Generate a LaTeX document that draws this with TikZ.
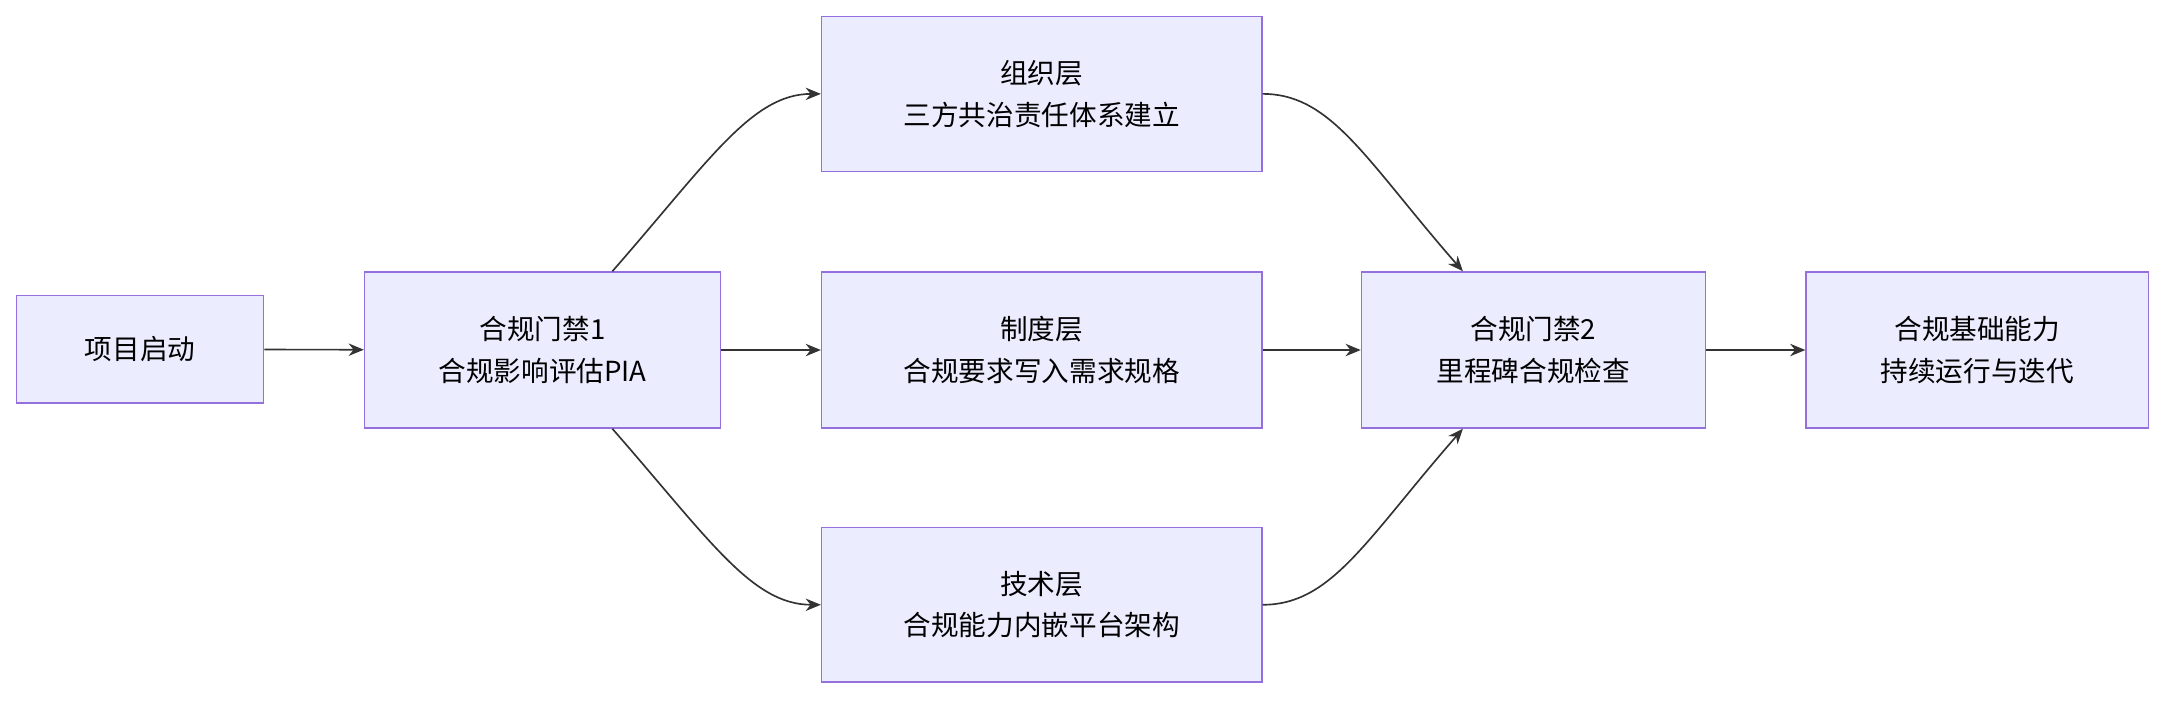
\documentclass[tikz,border=0pt]{standalone}
\usepackage{fontspec}
\setmainfont{Noto Sans CJK SC}
\usetikzlibrary{arrows.meta,calc}
\definecolor{boxfill}{HTML}{ECECFF}
\definecolor{boxline}{HTML}{9370DB}
\definecolor{arr}{HTML}{333333}
\begin{document}
\begin{tikzpicture}[x=1pt,y=1pt,
  box/.style={draw=boxline,fill=boxfill,line width=1pt,align=center,font=\fontsize{20}{30}\selectfont,inner sep=0pt},
  conn/.style={draw=arr,line width=1.2pt,-{Stealth[length=11pt,width=9pt]}}]
\useasboundingbox (0,0) rectangle (1568,507);
\node[box,minimum width=179pt,minimum height=78pt] (start) at (101.5,254) {项目启动};
\node[box,minimum width=258pt,minimum height=113pt] (g1) at (393,253.5) {合规门禁1\\合规影响评估PIA};
\node[box,minimum width=319pt,minimum height=112pt] (org) at (754.5,439) {组织层\\三方共治责任体系建立};
\node[box,minimum width=319pt,minimum height=113pt] (sys) at (754.5,253.5) {制度层\\合规要求写入需求规格};
\node[box,minimum width=319pt,minimum height=112pt] (tech) at (754.5,69) {技术层\\合规能力内嵌平台架构};
\node[box,minimum width=249pt,minimum height=113pt] (g2) at (1110.5,253.5) {合规门禁2\\里程碑合规检查};
\node[box,minimum width=248pt,minimum height=113pt] (base) at (1432,253.5) {合规基础能力\\持续运行与迭代};
\draw[conn] (start) -- (g1);
\draw[conn] (g1) -- (sys);
\draw[conn] (sys) -- (g2);
\draw[conn] (g2) -- (base);
\coordinate (g1t) at ($(g1.north west)+(180,0)$);
\coordinate (g1b) at ($(g1.south west)+(180,0)$);
\coordinate (g2t) at ($(g2.north west)+(74,0)$);
\coordinate (g2b) at ($(g2.south west)+(74,0)$);
\draw[conn] (g1t) .. controls ($(g1t)+(70,80)$) and ($(org.west)+(-50,0)$) .. (org.west);
\draw[conn] (g1b) .. controls ($(g1b)+(70,-80)$) and ($(tech.west)+(-50,0)$) .. (tech.west);
\draw[conn] (org.east) .. controls ($(org.east)+(50,0)$) and ($(g2t)+(-70,80)$) .. (g2t);
\draw[conn] (tech.east) .. controls ($(tech.east)+(50,0)$) and ($(g2b)+(-70,-80)$) .. (g2b);
\end{tikzpicture}
\end{document}
